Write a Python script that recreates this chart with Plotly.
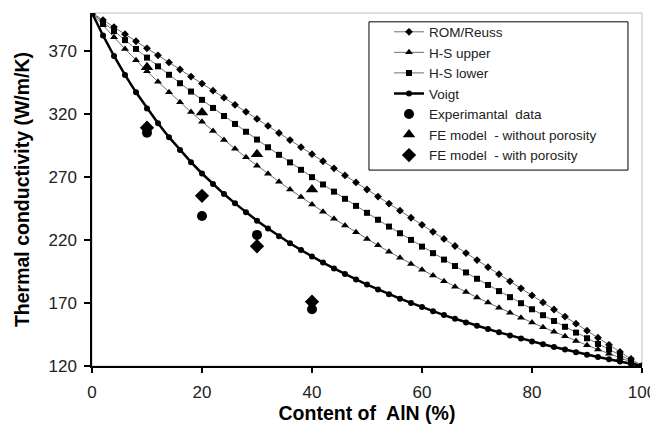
import plotly.graph_objects as go

# Content of AlN (%)
content = [0, 2, 4, 6, 8, 10, 12, 14, 16, 18, 20, 22, 24, 26, 28, 30, 32, 34, 36, 38, 40,
           42, 44, 46, 48, 50, 52, 54, 56, 58, 60, 62, 64, 66, 68, 70, 72, 74, 76, 78, 80,
           82, 84, 86, 88, 90, 92, 94, 96, 98, 100]

rom_reuss = [400.0, 394.4, 388.8, 383.2, 377.6, 372.0, 366.4, 360.8, 355.2, 349.6, 344.0,
             338.4, 332.8, 327.2, 321.6, 316.0, 310.4, 304.8, 299.2, 293.6, 288.0,
             282.4, 276.8, 271.2, 265.6, 260.0, 254.4, 248.8, 243.2, 237.6, 232.0,
             226.4, 220.8, 215.2, 209.6, 204.0, 198.4, 192.8, 187.2, 181.6, 176.0,
             170.4, 164.8, 159.2, 153.6, 148.0, 142.4, 136.8, 131.2, 125.6, 120.0]

hs_upper = [400.0, 390.2, 380.7, 371.5, 362.5, 353.8, 345.4, 337.2, 329.2, 321.4, 313.8,
            306.5, 299.3, 292.3, 285.5, 278.9, 272.5, 266.2, 260.0, 254.0, 248.1,
            242.4, 236.8, 231.4, 226.0, 220.8, 215.7, 210.7, 205.8, 201.0, 196.4,
            191.8, 187.3, 182.9, 178.6, 174.4, 170.3, 166.2, 162.2, 158.3, 154.5,
            150.8, 147.1, 143.5, 139.9, 136.5, 133.1, 129.7, 126.4, 123.2, 120.0]

hs_lower = [400.0, 392.7, 385.6, 378.5, 371.5, 364.6, 357.7, 351.0, 344.3, 337.7, 331.1,
            324.7, 318.3, 312.0, 305.8, 299.6, 293.5, 287.5, 281.5, 275.6, 269.8,
            264.0, 258.3, 252.6, 247.0, 241.5, 236.0, 230.6, 225.3, 220.0, 214.7,
            209.5, 204.4, 199.3, 194.2, 189.2, 184.3, 179.4, 174.6, 169.8, 165.0,
            160.3, 155.7, 151.1, 146.5, 142.0, 137.5, 133.1, 128.7, 124.3, 120.0]

voigt = [400.0, 382.2, 365.9, 350.9, 337.1, 324.3, 312.5, 301.5, 291.3, 281.7, 272.7,
         264.3, 256.4, 249.0, 241.9, 235.3, 229.0, 223.0, 217.4, 212.0, 206.9,
         202.0, 197.4, 192.9, 188.7, 184.6, 180.7, 177.0, 173.4, 170.0, 166.7,
         163.5, 160.4, 157.5, 154.6, 151.9, 149.3, 146.7, 144.2, 141.8, 139.5,
         137.3, 135.1, 133.0, 131.0, 129.0, 127.1, 125.3, 123.5, 121.7, 120.0]

sample_content = [10, 20, 30, 40]
experimental = [305, 239, 224, 165]
fe_no_porosity = [357, 321, 288, 260]
fe_porosity = [309, 255, 215, 171]

x_ticks = [0, 20, 40, 60, 80, 100]
y_ticks = [120, 170, 220, 270, 320, 370]

FONT = "Liberation Sans, Arial, sans-serif"
LINE_GRAY = "#707070"

fig = go.Figure()

def model_line(y, name, symbol, lw, lcolor, msize):
    fig.add_trace(go.Scatter(
        x=content, y=y, name=name, mode="lines+markers",
        line=dict(color=lcolor, width=lw),
        marker=dict(symbol=symbol, size=msize, color="black"),
    ))

model_line(rom_reuss, "ROM/Reuss", "diamond", 1, LINE_GRAY, 6)
model_line(hs_upper, "H-S upper", "triangle-up", 1, LINE_GRAY, 7)
model_line(hs_lower, "H-S lower", "square", 1, LINE_GRAY, 6)
model_line(voigt, "Voigt", "circle", 2.5, "black", 6)

fig.add_trace(go.Scatter(x=sample_content, y=experimental, name="Experimantal  data",
                         mode="markers", marker=dict(symbol="circle", size=10, color="black")))
fig.add_trace(go.Scatter(x=sample_content, y=fe_no_porosity, name="FE model  - without porosity",
                         mode="markers", marker=dict(symbol="triangle-up", size=11, color="black")))
fig.add_trace(go.Scatter(x=sample_content, y=fe_porosity, name="FE model  - with porosity",
                         mode="markers", marker=dict(symbol="diamond", size=11, color="black")))

# plot area border (light gray) and legend box
fig.add_shape(type="rect", xref="paper", yref="paper", x0=0, x1=1, y0=0, y1=1,
              line=dict(color="#c0c0c0", width=1), layer="below")
fig.add_shape(type="rect", xref="paper", yref="paper", x0=0.5036, x1=0.9745, y0=0.555, y1=0.975,
              line=dict(color="black", width=1), fillcolor="white", layer="below")

# the page body adds an 8px margin, so the figure is sized/margined to compensate
fig.update_layout(
    width=650, height=421,
    margin=dict(l=84, r=16, t=5, b=63),
    paper_bgcolor="white", plot_bgcolor="white",
    font=dict(family=FONT, color="#222222", size=14),
    showlegend=True,
    legend=dict(x=0.54, y=0.99, xanchor="left", yanchor="top",
                bgcolor="rgba(0,0,0,0)", borderwidth=0,
                font=dict(family=FONT, size=13.5, color="#222222"),
                tracegroupgap=0, itemwidth=30),
    xaxis=dict(range=[0, 100], tickvals=x_ticks, showgrid=False, zeroline=False,
               automargin=False,
               showline=True, linecolor="black", linewidth=1.5,
               ticks="outside", ticklen=5, tickcolor="black", tickwidth=1.5,
               ticklabelstandoff=5,
               tickfont=dict(size=17, color="#222222"),
               title=dict(text="<b>Content of  AlN (%)</b>", font=dict(size=19.5, color="black"),
                          standoff=3)),
    yaxis=dict(range=[120, 400], tickvals=y_ticks, showgrid=False, zeroline=False,
               automargin=False,
               showline=True, linecolor="black", linewidth=1.5,
               ticks="outside", ticklen=6, tickcolor="black", tickwidth=1.5,
               ticklabelstandoff=4,
               tickfont=dict(size=17, color="#222222"),
               title=dict(text="<b>Thermal conductivity (W/m/K)</b>", font=dict(size=19.5, color="black"),
                          standoff=14)),
)

fig.write_html("out.html")
